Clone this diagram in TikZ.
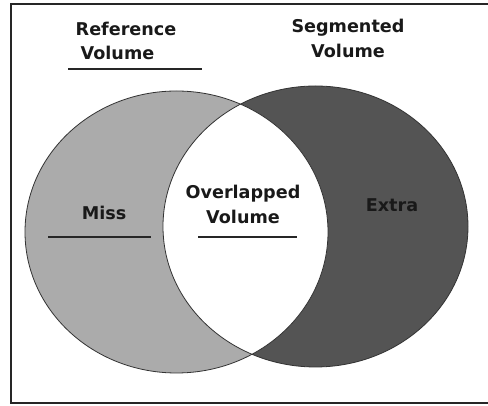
\documentclass[tikz,border=0pt]{standalone}
\usepackage{fontspec}
\setmainfont{DejaVu Sans}
\begin{document}
\begin{tikzpicture}[x=1pt,y=1pt,
  lbl/.style={font=\bfseries\fontsize{17.6}{24.5}\selectfont, text=black!90, inner sep=0pt},
  rule/.style={draw=black!85, line width=1.2pt},
  outline/.style={draw=black!80, line width=0.8pt}]
  \useasboundingbox (0,0) rectangle (488,406);
  \fill[white] (0,0) rectangle (488,406);
  % frame, its right side runs past the page edge
  \draw[black!85, line width=1.6pt] (496,402) -- (11,402) -- (11,3) -- (496,3);

  % the two volumes
  \coordinate (refc) at (176.5,174);
  \coordinate (segc) at (315.5,179.5);
  \fill[black!33] (refc) ellipse [x radius=151.5, y radius=141];
  \fill[black!67] (segc) ellipse [x radius=152.5, y radius=140.5];
  \begin{scope}
    \clip (refc) ellipse [x radius=151.5, y radius=141];
    \fill[white] (segc) ellipse [x radius=152.5, y radius=140.5];
  \end{scope}
  \draw[outline] (refc) ellipse [x radius=151.5, y radius=141];
  \draw[outline] (segc) ellipse [x radius=152.5, y radius=140.5];

  % labels
  \node[lbl, align=left, anchor=west] (ref) at (75.5,365) {Reference\\\hspace*{5pt}Volume};
  \node[lbl, align=center] (seg) at (348,367.5) {Segmented\\Volume};
  \node[lbl] (miss) at (104,193) {Miss};
  \node[lbl, align=center] (ovl) at (243,201.5) {Overlapped\\Volume};
  \node[lbl] (extra) at (392,201) {Extra};

  % underlines
  \coordinate (u1a) at (68,337); \coordinate (u1b) at (202,337);
  \coordinate (u2a) at (48,169); \coordinate (u2b) at (151,169);
  \coordinate (u3a) at (198,169); \coordinate (u3b) at (297,169);
  \draw[rule] (u1a) -- (u1b);
  \draw[rule] (u2a) -- (u2b);
  \draw[rule] (u3a) -- (u3b);
\end{tikzpicture}
\end{document}
